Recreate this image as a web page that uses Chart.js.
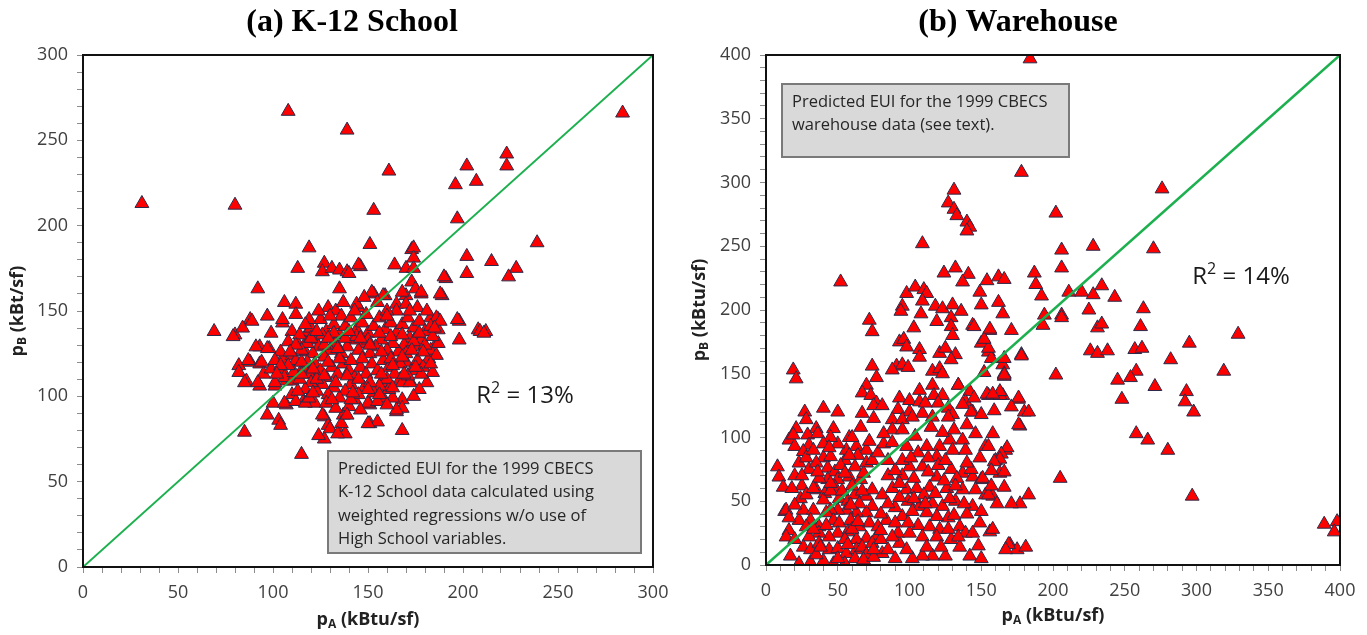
<!DOCTYPE html>
<html>
<head>
<meta charset="utf-8">
<script src="https://cdn.jsdelivr.net/npm/chart.js@4.4.1/dist/chart.umd.min.js"></script>
<style>
  html, body { margin: 0; padding: 0; background: #fff; }
  body { width: 1367px; height: 635px; position: relative; overflow: hidden; }
  .panel { position: absolute; top: 0; height: 635px; }
  #leftPanel { left: 0; width: 683px; }
  #rightPanel { left: 683px; width: 684px; }
</style>
</head>
<body>
<div class="panel" id="leftPanel"><canvas id="schoolChart"></canvas></div>
<div class="panel" id="rightPanel"><canvas id="warehouseChart"></canvas></div>
<script>
// (a) K-12 School: [pA, pB] in kBtu/sf
const schoolPoints = [
  [31,213],[80,212],[108,267],[139,256],[161,232],[153,209],[223,242],[223,235],[202,235],[207,226],
  [196,224],[197,204],[284,266],[239,190],[215,179],[228,175],[224,170],[202,182],[202,172],[191,169],
  [189,159],[173,186],[174,187],[174,181],[170,175],[174,175],[164,177],[173,167],[175,163],[170,159],
  [178,160],[151,189],[146,176],[153,160],[159,159],[145,152],[119,187],[113,175],[127,178],[126,173],
  [131,175],[135,174],[139,173],[140,172],[135,163],[92,163],[106,155],[112,154],[112,148],[97,147],
  [88,145],[129,152],[133,150],[136,147],[165,154],[170,154],[165,150],[176,152],[183,146],[187,145],
  [198,144],[145,177],[152,161],[158,159],[144,154],[155,155],[186,146],[197,145],[208,139],[212,138],
  [198,133],[186,131],[180,127],[188,160],[190,170],[168,161],[178,161],
  [69,138],[80,136],[84,140],[89,144],[105,143],[110,138],[99,137],[93,129],[98,128],[82,118],
  [82,114],[86,109],[88,120],[93,119],[93,106],[95,113],[99,116],[105,115],[101,106],[107,109],
  [100,96],[97,89],[103,86],[104,83],[107,95],[110,101],[116,97],[122,96],[115,66],[85,79],
  [127,88],[129,83],[127,75],[135,79],[138,78],[137,89],[140,94],[143,98],[151,95],[151,84],
  [155,85],[165,91],[168,98],[168,93],[168,80],[167,110],[170,120],[173,115],[172,109],[182,122],
  [183,127],[187,131],[209,138],[211,137],[187,139],[176,136],[188,144],[105,145],[118,137],[91,129],
  [97,128],[87,121],[94,120],[105,122],[110,124],[113,131],[117,131],[122,133],[117,126],[106,111],
  [110,109],[101,108],[106,96],[112,97],[117,96],[126,89],[130,81],[124,77],[150,96],[150,84],
  [136,84],[139,89],[134,78],[158,99],[163,99],[157,108],[161,104],[165,92],[168,108],[172,108],
  [92,108],[85,108],[79,135],
  [120,140],[125,145],[128,138],[132,142],[135,136],[138,141],[141,146],[144,139],[147,143],[150,137],
  [153,141],[156,146],[159,139],[162,143],[165,137],[168,142],[171,146],[174,140],[177,144],[180,138],
  [183,141],[178,133],[175,129],[172,134],[169,130],[166,126],[163,131],[160,127],[157,133],[154,129],
  [151,125],[148,131],[145,127],[142,133],[139,129],[136,125],[133,131],[130,127],[127,123],[124,129],
  [121,125],[118,131],[115,127],[112,121],[116,117],[119,113],[122,119],[125,115],[128,111],[131,117],
  [134,113],[137,119],[140,115],[143,111],[146,117],[149,113],[152,119],[155,115],[158,121],[161,117],
  [164,113],[167,119],[170,125],[176,121],[179,117],[184,114],[181,108],[177,104],[174,100],[160,110],
  [156,106],[153,102],[148,105],[145,101],[141,107],[138,103],[135,99],[132,105],[129,101],[126,107],
  [123,103],[120,108],[117,104],[114,110],[111,114],[108,118],[104,126],[101,121],[108,132],[114,136],
  [120,134],[126,136],[132,137],[138,134],[144,135],[150,133],[156,137],[162,135],[168,136],[174,132],
  [180,130],[184,135],[186,124],[178,113],[171,112],[163,105],[147,122],[141,121],[135,122],[129,120],
  [123,110],[118,120],[128,96],[133,93],[141,98],[146,92],[155,97],[160,95],[130,147],[143,150],
  [149,148],[160,150],[127,130],[113,103],[119,99],
  [119,145],[124,150],[137,155],[148,158],[160,147],[172,150],[181,150],[185,140],[179,126],[183,119],
  [175,117],[169,113],[162,122],[157,126],[151,130],[146,134],[140,138],[134,128],[129,134],[123,138],
  [117,142],[112,130],[109,126],[115,120],[121,116],[127,112],[133,108],[139,112],[145,110],[151,108],
  [157,113],[163,118],[168,123],[173,127],[177,137],[121,102],[131,98],[142,102],[150,104],[156,101],
  [115,113],[104,118],[102,113]
];

// (b) Warehouse: [pA, pB] in kBtu/sf
const warehousePoints = [
  [184,397],[178,308],[131,294],[127,284],[131,279],[133,274],[140,269],[142,265],[140,262],[202,276],
  [276,295],[109,252],[228,250],[270,248],[206,247],[52,222],[124,229],[132,233],[141,228],[137,222],
  [154,223],[162,226],[166,224],[187,229],[206,233],[188,220],[192,211],[98,213],[104,218],[110,216],
  [112,213],[109,207],[95,203],[94,199],[108,197],[118,203],[123,201],[130,204],[136,199],[149,214],
  [150,204],[162,206],[165,197],[211,214],[220,214],[228,212],[234,219],[243,210],[225,200],[263,201],
  [194,196],[206,196],
  [72,192],[74,183],[103,186],[119,191],[129,194],[129,187],[130,180],[144,188],[156,184],[171,184],
  [93,175],[96,177],[98,171],[107,169],[107,163],[121,166],[125,170],[132,165],[129,161],[150,174],
  [155,167],[157,162],[178,165],[19,153],[21,146],[74,156],[91,156],[95,157],[99,155],[88,153],
  [116,152],[121,154],[123,150],[152,151],[165,157],[166,150],
  [329,181],[295,174],[319,152],[282,161],[261,187],[231,186],[234,189],[226,168],[231,166],[238,168],
  [257,169],[262,170],[258,152],[245,145],[254,147],[248,130],[271,140],[293,136],[292,128],[298,120],
  [258,103],[266,98],[280,90],[297,54],[389,32],[398,34],[396,26],[205,68],[202,149],[206,194],[193,188],
  [70,141],[77,147],[67,135],[73,133],[77,127],[93,131],[100,129],[107,137],[107,128],[92,122],
  [100,120],[109,119],[88,114],[95,114],[102,116],[116,141],[117,133],[123,133],[120,127],[127,123],
  [134,141],[142,136],[139,128],[144,120],[130,118],[127,116],[116,116],[111,127],[166,148],[165,133],
  [155,133],[163,133],[176,130],[180,120],[177,109],[27,120],[40,123],[50,120],[28,114],[21,107],
  [35,107],[47,107],[75,125],[81,125],[67,119],[75,115],[88,106],[95,106],
  [8,77],[9,69],[12,61],[16,98],[20,93],[23,80],[29,102],[36,103],[30,94],[26,89],
  [19,102],[13,42],[16,27],[23,35],[40,84],[43,76],[48,73],[50,67],[43,67],[37,68],
  [35,59],[41,56],[48,61],[55,82],[56,90],[63,93],[70,90],[64,86],[70,80],[74,82],
  [62,77],[58,69],[66,67],[51,52],[57,50],[62,55],[70,54],[74,59],[81,55],[74,46],
  [70,41],[63,41],[56,43],[50,43],[45,43],[40,51],[42,41],[24,52],[26,43],[14,43],
  [33,43],[31,35],[37,30],[47,35],[51,33],[59,35],[65,30],[72,33],[77,22],[70,21],
  [63,20],[57,26],[50,25],[44,22],[37,25],[30,22],[26,14],[31,12],[37,17],[44,12],
  [50,13],[56,9],[63,12],[67,14],[74,17],[80,20],[81,9],[70,8],[62,5],[55,1],
  [47,1],[40,3],[31,2],[23,1],[14,22],[17,7],
  [98,59],[105,60],[114,61],[99,50],[107,46],[116,48],[123,46],[112,41],[102,42],[95,38],
  [106,31],[114,30],[121,28],[109,22],[119,22],[127,37],[131,39],[135,30],[139,25],[144,25],
  [129,20],[135,14],[142,7],[125,7],[116,7],[109,7],[102,5],[93,17],[92,25],[100,25],
  [98,93],[106,88],[112,93],[121,93],[128,98],[137,98],[139,90],[130,90],[119,85],[109,77],
  [100,77],[95,82],[119,69],[129,75],[137,72],[144,69],[150,67],[153,93],[160,82],[167,90],
  [163,72],[166,61],[153,55],[144,46],[149,33],[156,26],[170,16],[175,12],[158,54],[146,59],
  [177,48],[171,48],[137,59],
  [166,149],[176,131],[183,120],[176,110],[168,92],[158,103],[166,73],[183,55],[169,16],[167,12],
  [181,14],[158,28],[155,55],[151,68],[143,75],[155,93],[164,87],[163,83],[159,81],[163,136],
  [154,134],[158,134],[178,164],[166,162],[155,170],[152,177],[156,185],[145,187],[137,126],[143,120],
  [145,131],[134,141],
  [20,70],[25,62],[28,55],[33,60],[30,75],[35,80],[45,85],[50,95],[58,100],[45,100],
  [40,95],[52,78],[60,62],[68,72],[78,88],[82,95],[85,70],[88,60],[90,45],[84,35],
  [78,30],[85,12],[90,5],[95,70],[103,68],[110,55],[118,56],[126,60],[132,50],[140,40],
  [120,78],[113,84],[125,82],[133,68],[55,20],[60,28],[68,4],[75,6],[28,30],[35,8],
  [42,31],[20,20],[65,48],[45,58],[55,72],
  [60,100],[66,108],[72,97],[82,103],[88,96],[104,101],[115,108],[123,104],[131,106],[140,110],
  [146,103],[150,118],[159,121],[171,124],[85,82],[90,74],[101,84],[113,73],[124,66],[132,62],
  [140,80],[149,84],[157,74],[157,62],[161,48],[150,42],[138,48],[128,52],[119,38],[111,48],
  [103,52],[93,53],[85,48],[80,40],[90,33],[99,33],[127,28],[134,22],[148,15],[150,5],
  [122,14],[112,14],[98,12],[88,22],[80,27],[64,34],[67,58],[59,47],[53,58],[45,64],
  [36,73],[28,84],[33,90],[44,92],[58,86],[25,70],[18,60],[20,47],[16,37],[33,28],
  [38,14],[50,5],[57,16],[75,12],[93,64]
];

const schoolMax = 300;
const warehouseMax = 400;

const RED = '#ff0000';
const MARKER_EDGE = '#2a2a4a';
const GREEN = '#1db04f';
const TICK_FONT = { family: "'Open Sans'", size: 18 };

// draws text made of [string, mode] parts; mode 'sub' / 'sup' / normal
function drawParts(ctx, parts, cx, cy, size, weight) {
  const small = Math.round(size * 0.68);
  let total = 0;
  parts.forEach(p => {
    ctx.font = `${weight} ${p[1] ? small : size}px 'Open Sans'`;
    total += ctx.measureText(p[0]).width;
  });
  let x = cx - total / 2;
  ctx.textBaseline = 'middle';
  ctx.textAlign = 'left';
  parts.forEach(p => {
    ctx.font = `${weight} ${p[1] ? small : size}px 'Open Sans'`;
    let dy = 0;
    if (p[1] === 'sub') dy = size * 0.28;
    if (p[1] === 'sup') dy = -size * 0.32;
    ctx.fillText(p[0], x, cy + dy);
    x += ctx.measureText(p[0]).width;
  });
}

const decorations = {
  id: 'decorations',
  afterDraw(chart, args, o) {
    const ctx = chart.ctx;
    const a = chart.chartArea;
    ctx.save();

    // frame on top and right
    ctx.strokeStyle = '#111';
    ctx.lineWidth = 2;
    ctx.strokeRect(a.left, a.top, a.right - a.left, a.bottom - a.top);

    // chart title
    ctx.fillStyle = '#000';
    ctx.font = "bold 32px 'Liberation Serif'";
    ctx.textAlign = 'center';
    ctx.textBaseline = 'middle';
    ctx.fillText(o.title, o.titleX, 23);

    // axis titles
    ctx.fillStyle = '#222';
    drawParts(ctx, [['p', null], ['A', 'sub'], [' (kBtu/sf)', null]], (a.left + a.right) / 2, o.xTitleY, 18, 'bold');
    ctx.save();
    ctx.translate(o.yTitleX, (a.top + a.bottom) / 2);
    ctx.rotate(-Math.PI / 2);
    drawParts(ctx, [['p', null], ['B', 'sub'], [o.yUnit, null]], 0, 0, 18, 'bold');
    ctx.restore();

    // note box
    const b = o.box;
    ctx.fillStyle = '#d9d9d9';
    ctx.fillRect(b.x, b.y, b.w, b.h);
    ctx.strokeStyle = '#7a7a7a';
    ctx.lineWidth = 2;
    ctx.strokeRect(b.x, b.y, b.w, b.h);
    ctx.fillStyle = '#262626';
    ctx.font = "16.5px 'Open Sans'";
    ctx.textAlign = 'left';
    ctx.textBaseline = 'middle';
    b.lines.forEach((t, i) => ctx.fillText(t, b.x + 10, b.y + 18 + i * 23.5));

    // R squared
    ctx.fillStyle = '#1a1a1a';
    drawParts(ctx, [['R', null], ['2', 'sup'], [' = ' + o.r2, null]], o.r2X, o.r2Y, 24, 'normal');

    ctx.restore();
  }
};

function makeAxis(max, size) {
  return {
    type: 'linear',
    min: 0,
    max: max,
    afterFit(scale) {
      if (scale.isHorizontal()) scale.height = size; else scale.width = size;
    },
    ticks: {
      stepSize: 10,
      autoSkip: false,
      maxRotation: 0,
      padding: 9,
      color: '#404040',
      font: TICK_FONT,
      callback: v => (v % 50 === 0 ? v : '')
    },
    grid: {
      drawOnChartArea: false,
      drawTicks: true,
      tickLength: 6,
      color: '#8c8c8c'
    },
    border: { color: '#111', width: 2 }
  };
}

function makeChart(id, points, max, pad, xHeight, deco) {
  return new Chart(document.getElementById(id), {
    type: 'scatter',
    data: {
      datasets: [
        {
          data: [{ x: 0, y: 0 }, { x: max, y: max }],
          showLine: true,
          borderColor: GREEN,
          borderWidth: deco.lineWidth,
          pointRadius: 0,
          fill: false,
          order: 0
        },
        {
          data: points.map(p => ({ x: p[0], y: p[1] })),
          pointStyle: 'triangle',
          pointRadius: 8,
          backgroundColor: RED,
          borderColor: MARKER_EDGE,
          borderWidth: 1,
          order: 1
        }
      ]
    },
    options: {
      responsive: true,
      maintainAspectRatio: false,
      animation: false,
      layout: { padding: pad },
      plugins: {
        legend: { display: false },
        tooltip: { enabled: false },
        decorations: deco
      },
      scales: {
        x: makeAxis(max, xHeight),
        y: makeAxis(max, 83)
      }
    },
    plugins: [decorations]
  });
}

makeChart('schoolChart', schoolPoints, schoolMax, { top: 55, right: 30, bottom: 0, left: 0 }, 68, {
  title: '(a) K-12 School',
  titleX: 352,
  xTitleY: 620,
  yTitleX: 18,
  yUnit: ' (kBt/sf)',
  lineWidth: 2,
  r2: '13%',
  r2X: 525,
  r2Y: 396,
  box: {
    x: 328, y: 451, w: 313, h: 102,
    lines: ['Predicted EUI for the 1999 CBECS', 'K-12 School data calculated using',
            'weighted regressions w/o use of', 'High School variables.']
  }
});

makeChart('warehouseChart', warehousePoints, warehouseMax, { top: 55, right: 27, bottom: 0, left: 0 }, 70, {
  title: '(b) Warehouse',
  titleX: 335,
  xTitleY: 616,
  yTitleX: 17,
  yUnit: ' (kBtu/sf)',
  lineWidth: 2.5,
  r2: '14%',
  r2X: 558,
  r2Y: 277,
  box: {
    x: 99, y: 84, w: 287, h: 73,
    lines: ['Predicted EUI for the 1999 CBECS', 'warehouse data (see text).']
  }
});
</script>
</body>
</html>
